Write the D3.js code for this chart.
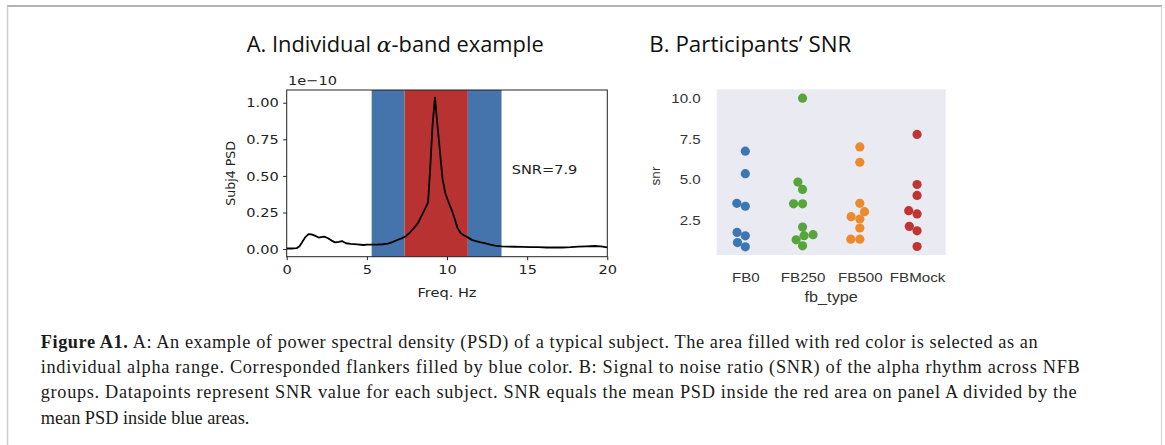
<!DOCTYPE html>
<html>
<head>
<meta charset="utf-8">
<script src="https://cdn.jsdelivr.net/npm/d3@7"></script>
<style>
  body { margin: 0; background: #fff; }
</style>
</head>
<body>
<div id="figure"></div>
<script>
// Panel A: PSD of one subject (values in units of 1e-10)
var freqs = [0, 0.3, 0.62, 0.8, 0.95, 1.15, 1.36, 1.55, 1.75, 2.0, 2.15, 2.35, 2.55, 2.8, 3.02, 3.25, 3.45, 3.7, 4.0, 4.4,
  4.8, 5.0, 5.3, 5.6, 6.0, 6.3, 6.6, 6.9, 7.2, 7.45, 7.7, 7.95, 8.2, 8.45, 8.65, 8.82, 8.95, 9.1, 9.25, 9.4,
  9.55, 9.72, 9.9, 10.1, 10.3, 10.5, 10.65, 10.85, 11.05, 11.3, 11.55, 11.8, 12.05, 12.35, 12.7, 13.0, 13.4, 13.8, 14.2, 14.7,
  15.2, 15.7, 16.2, 16.7, 17.2, 17.7, 18.2, 18.7, 19.2, 19.6, 20];
var psd = [0.004, 0.004, 0.006, 0.02, 0.045, 0.08, 0.102, 0.1, 0.092, 0.079, 0.082, 0.085, 0.076, 0.058, 0.046, 0.05, 0.055, 0.04, 0.036, 0.032,
  0.028, 0.03, 0.03, 0.031, 0.033, 0.037, 0.048, 0.062, 0.075, 0.09, 0.115, 0.145, 0.18, 0.235, 0.28, 0.32, 0.55, 0.85, 1.035, 0.85,
  0.68, 0.48, 0.38, 0.32, 0.265, 0.2, 0.145, 0.11, 0.095, 0.08, 0.063, 0.055, 0.047, 0.04, 0.03, 0.024, 0.019, 0.017, 0.016, 0.015,
  0.014, 0.013, 0.011, 0.012, 0.011, 0.013, 0.017, 0.019, 0.021, 0.018, 0.011];
var flankerBands = [[5.3, 7.35], [11.3, 13.4]];
var alphaBand = [7.35, 11.3];
var psdTicks = [0, 0.25, 0.5, 0.75, 1.0];
var freqTicks = [0, 5, 10, 15, 20];
var snrText = "SNR=7.9";

// Panel B: SNR per participant and feedback type
var fbTypes = ["FB0", "FB250", "FB500", "FBMock"];
var snrFB0 = [6.74, 5.36, 3.55, 3.37, 1.77, 1.56, 1.15, 0.89];
var snrFB250 = [9.98, 4.85, 4.40, 3.52, 3.52, 2.10, 1.63, 1.57, 1.32, 0.95];
var snrFB500 = [7.0, 6.06, 3.55, 3.04, 2.73, 2.59, 2.04, 1.36, 1.36];
var snrFBMock = [7.76, 4.70, 4.03, 3.10, 2.90, 2.14, 1.87, 0.91];
var snrTicks = [2.5, 5.0, 7.5, 10.0];

var captionLines = [
  ["Figure A1.", " A: An example of power spectral density (PSD) of a typical subject. The area filled with red color is selected as an"],
  ["", "individual alpha range. Corresponded flankers filled by blue color. B: Signal to noise ratio (SNR) of the alpha rhythm across NFB"],
  ["", "groups. Datapoints represent SNR value for each subject. SNR equals the mean PSD inside the red area on panel A divided by the"],
  ["", "mean PSD inside blue areas."]
];
var captionWidths = [997, 1039, 1036, null];

var svgWidth = 1165, svgHeight = 445;
var svg = d3.select("#figure").append("svg")
  .attr("width", svgWidth)
  .attr("height", svgHeight)
  .style("display", "block");

// the source image looks a bit wider than tall, stretch text to match
function stretch(sel, k) {
  sel.each(function() {
    var w = this.getComputedTextLength();
    d3.select(this).attr("textLength", w * k).attr("lengthAdjust", "spacingAndGlyphs");
  });
}
function fitWidth(sel, w, mode) {
  sel.attr("textLength", w).attr("lengthAdjust", mode || "spacingAndGlyphs");
}

// page frame
svg.append("line").attr("x1", 7).attr("x2", 1162).attr("y1", 6).attr("y2", 6)
  .attr("stroke", "#9a9a9a").attr("stroke-width", 1.5);
svg.append("line").attr("x1", 7.5).attr("x2", 7.5).attr("y1", 6).attr("y2", svgHeight)
  .attr("stroke", "#cccccc").attr("stroke-width", 1.5);
svg.append("line").attr("x1", 1161.5).attr("x2", 1161.5).attr("y1", 6).attr("y2", svgHeight)
  .attr("stroke", "#d4d4d4").attr("stroke-width", 1.2);

// ---------- Panel A ----------
var a = { left: 286.7, right: 607.3, top: 90, bottom: 256.7 };
var xA = d3.scaleLinear().domain([0, 20]).range([a.left, a.right]);
var yA = d3.scaleLinear().domain([-0.052, 1.087]).range([a.bottom, a.top]);
var fontA = "DejaVu Sans";

var gA = svg.append("g");

flankerBands.forEach(function(b) {
  gA.append("rect")
    .attr("x", xA(b[0])).attr("width", xA(b[1]) - xA(b[0]))
    .attr("y", a.top).attr("height", a.bottom - a.top)
    .attr("fill", "#4474ab");
});
gA.append("rect")
  .attr("x", xA(alphaBand[0])).attr("width", xA(alphaBand[1]) - xA(alphaBand[0]))
  .attr("y", a.top).attr("height", a.bottom - a.top)
  .attr("fill", "#b83232");

var line = d3.line()
  .x(function(d, i) { return xA(freqs[i]); })
  .y(function(d) { return yA(d); });
gA.append("path")
  .datum(psd)
  .attr("d", line)
  .attr("fill", "none")
  .attr("stroke", "#000")
  .attr("stroke-width", 1.8)
  .attr("stroke-linejoin", "round");

gA.append("rect")
  .attr("x", a.left).attr("y", a.top)
  .attr("width", a.right - a.left).attr("height", a.bottom - a.top)
  .attr("fill", "none").attr("stroke", "#222").attr("stroke-width", 1);

var yAxisA = gA.append("g")
  .attr("transform", "translate(" + a.left + ",0)")
  .call(d3.axisLeft(yA).tickValues(psdTicks).tickFormat(d3.format(".2f")).tickSize(3.5).tickPadding(4.5));
var xAxisA = gA.append("g")
  .attr("transform", "translate(0," + a.bottom + ")")
  .call(d3.axisBottom(xA).tickValues(freqTicks).tickFormat(d3.format("d")).tickSize(3.5).tickPadding(4.5));
[yAxisA, xAxisA].forEach(function(ax) {
  ax.select(".domain").remove();
  ax.selectAll("line").attr("stroke", "#222");
  ax.selectAll("text").attr("font-family", fontA).attr("font-size", 13).attr("fill", "#222");
  stretch(ax.selectAll("text"), 1.12);
});

var labelsA = gA.append("g").attr("font-family", fontA).attr("font-size", 13).attr("fill", "#222");
labelsA.append("text").attr("x", 288).attr("y", 85).text("1e\u221210");
labelsA.append("text").attr("x", (a.left + a.right) / 2).attr("y", 297).attr("text-anchor", "middle").text("Freq. Hz");
labelsA.append("text").attr("x", 511.7).attr("y", 174).text(snrText);
stretch(labelsA.selectAll("text"), 1.12);
labelsA.append("text")
  .attr("transform", "translate(235," + (a.top + a.bottom) / 2 + ") rotate(-90)")
  .attr("text-anchor", "middle")
  .attr("font-size", 12.6)
  .text("Subj4 PSD");

var titleA = svg.append("text")
  .attr("x", 246.7).attr("y", 51.7)
  .attr("font-family", "Open Sans").attr("font-size", 21).attr("fill", "#111");
titleA.append("tspan").text("A. Individual ");
titleA.append("tspan").attr("font-family", "DejaVu Serif").attr("font-style", "italic").text("\u03b1");
titleA.append("tspan").text("-band example");
fitWidth(titleA, 297);

// ---------- Panel B ----------
var b = { left: 716.7, right: 945.7, top: 89.3, bottom: 255 };
var xB = d3.scalePoint().domain(fbTypes).range([b.left, b.right]).padding(0.5);
var yB = d3.scaleLinear().domain([0.39, 10.52]).range([b.bottom, b.top]);
var fontB = "Liberation Sans";
var groupColors = ["#3d76b4", "#56a53a", "#ee8a2e", "#c03434"];
var groupValues = [snrFB0, snrFB250, snrFB500, snrFBMock];

var gB = svg.append("g");
gB.append("rect")
  .attr("x", b.left).attr("y", b.top)
  .attr("width", b.right - b.left).attr("height", b.bottom - b.top)
  .attr("fill", "#eaeaf2");

// seaborn-like beeswarm: sort by value, take the candidate closest to the midline
function beeswarm(values, mid, d) {
  var pts = values.map(function(v) { return { v: v, y: yB(v) }; })
    .sort(function(p, q) { return p.v - q.v; });
  var swarm = [];
  pts.forEach(function(p, i) {
    if (i === 0) { p.x = mid; swarm.push(p); return; }
    var neighbors = [];
    for (var j = swarm.length - 1; j >= 0; j--) {
      if (Math.abs(p.y - swarm[j].y) < d) neighbors.unshift(swarm[j]);
      else break;
    }
    var cands = [mid];
    var leftFirst = true;
    neighbors.forEach(function(n) {
      var dy = p.y - n.y;
      var dx = Math.sqrt(Math.max(d * d - dy * dy, 0)) * 1.05;
      if (leftFirst) cands.push(n.x - dx, n.x + dx);
      else cands.push(n.x + dx, n.x - dx);
      leftFirst = !leftFirst;
    });
    var order = cands.map(function(c, k) { return { c: c, k: k }; })
      .sort(function(u, w) { return (Math.abs(u.c - mid) - Math.abs(w.c - mid)) || (u.k - w.k); });
    var chosen = order[order.length - 1].c;
    for (var k = 0; k < order.length; k++) {
      var c = order[k].c;
      var ok = neighbors.every(function(n) {
        return Math.hypot(c - n.x, p.y - n.y) >= d - 1e-6;
      });
      if (ok) { chosen = c; break; }
    }
    p.x = chosen;
    swarm.push(p);
  });
  return swarm;
}

fbTypes.forEach(function(t, i) {
  var pts = beeswarm(groupValues[i], xB(t), 8.6);
  gB.append("g").selectAll("circle")
    .data(pts)
    .enter()
    .append("circle")
    .attr("cx", function(d) { return d.x; })
    .attr("cy", function(d) { return d.y; })
    .attr("r", 4.6)
    .attr("fill", groupColors[i]);
});

var yAxisB = gB.append("g")
  .attr("transform", "translate(" + b.left + ",0)")
  .call(d3.axisLeft(yB).tickValues(snrTicks).tickFormat(d3.format(".1f")).tickSize(0).tickPadding(16));
var xAxisB = gB.append("g")
  .attr("transform", "translate(0," + b.bottom + ")")
  .call(d3.axisBottom(xB).tickSize(0).tickPadding(17));
[yAxisB, xAxisB].forEach(function(ax) {
  ax.select(".domain").remove();
  ax.selectAll("text").attr("font-family", fontB).attr("font-size", 13.5).attr("fill", "#333");
  stretch(ax.selectAll("text"), 1.12);
});

var labelsB = gB.append("g").attr("font-family", fontB).attr("font-size", 14.5).attr("fill", "#333");
labelsB.append("text").attr("x", (b.left + b.right) / 2).attr("y", 301.5).attr("text-anchor", "middle").text("fb_type");
stretch(labelsB.selectAll("text"), 1.12);
labelsB.append("text")
  .attr("transform", "translate(660,176) rotate(-90)")
  .attr("text-anchor", "middle")
  .attr("font-size", 13.5)
  .text("snr");

var titleB = svg.append("text")
  .attr("x", 649.3).attr("y", 51.7)
  .attr("font-family", "Open Sans").attr("font-size", 21).attr("fill", "#111")
  .text("B. Participants\u2019 SNR");
fitWidth(titleB, 202);

// ---------- Caption ----------
var cap = svg.append("g")
  .attr("font-family", "Liberation Serif")
  .attr("font-size", 18.3)
  .attr("fill", "#1a1a1a");
captionLines.forEach(function(l, i) {
  var t = cap.append("text").attr("x", 40.7).attr("y", 347.5 + i * 25.4);
  if (l[0]) t.append("tspan").attr("font-weight", "bold").text(l[0]);
  t.append("tspan").text(l[1]);
  if (captionWidths[i]) fitWidth(t, captionWidths[i], "spacing");
});
</script>
</body>
</html>
